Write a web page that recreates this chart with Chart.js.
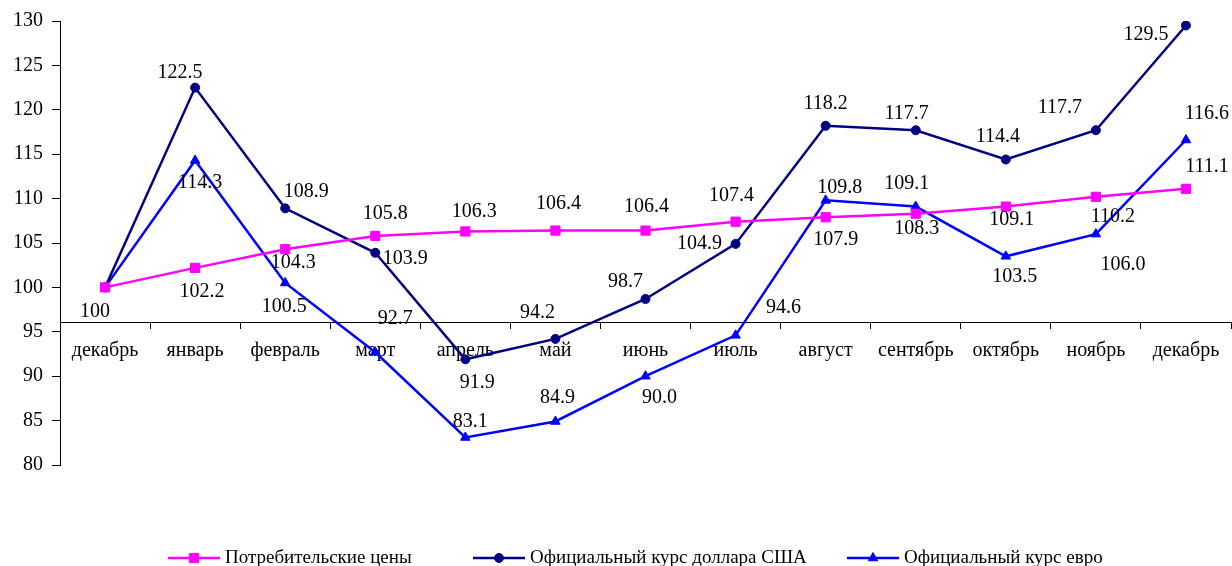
<!DOCTYPE html>
<html>
<head>
<meta charset="utf-8">
<script src="https://cdn.jsdelivr.net/npm/chart.js@4/dist/chart.umd.min.js"></script>
<style>
    html, body { margin: 0; padding: 0; background: #ffffff; }
    #wrap { width: 1232px; height: 566px; }
</style>
</head>
<body>
<div id="wrap"><canvas id="lineChart1"></canvas></div>
<script>
const months = ['декабрь', 'январь', 'февраль', 'март', 'апрель', 'май', 'июнь',
    'июль', 'август', 'сентябрь', 'октябрь', 'ноябрь', 'декабрь'];
const consumerPrices = [100, 102.2, 104.3, 105.8, 106.3, 106.4, 106.4, 107.4, 107.9, 108.3, 109.1, 110.2, 111.1];
const usdRate = [100, 122.5, 108.9, 103.9, 91.9, 94.2, 98.7, 104.9, 118.2, 117.7, 114.4, 117.7, 129.5];
const euroRate = [100, 114.3, 100.5, 92.7, 83.1, 84.9, 90.0, 94.6, 109.8, 109.1, 103.5, 106.0, 116.6];
const seriesNames = ['Потребительские цены', 'Официальный курс доллара США', 'Официальный курс евро'];
const yMin = 80, yMax = 130, yStep = 5, xCross = 96;

// where each value label sits, relative to its marker (null = no label)
const labelOffsets = [
    [[-10, 24], [7, 24], [8, 14], [10, -22], [9, -20], [3, -27], [1, -24], [-4, -26], [10, 23], [1, 15], [6, 13], [17, 20], [21, -22]],
    [null, [-15, -15], [21, -17], [30, 6], [12, 23], [-18, -26], [-20, -17], [-36, 0], [0, -22], [-9, -16], [-8, -23], [-36, -22], [-40, 9]],
    [null, [5, 22], [-1, 24], [20, -33], [5, -16], [2, -24], [14, 22], [48, -28], [14, -13], [-9, -23], [9, 20], [27, 31], [21, -26]]
];
// left edge of each legend entry
const legendX = [168, 473, 847];

const serif = "'Liberation Serif', 'Times New Roman', serif";
const fontSize = 20;

const valueLabels = {
    id: 'valueLabels',
    afterDatasetsDraw(chart) {
        const ctx = chart.ctx;
        ctx.save();
        ctx.font = fontSize + 'px ' + serif;
        ctx.fillStyle = '#000000';
        ctx.textAlign = 'center';
        ctx.textBaseline = 'middle';
        chart.data.datasets.forEach((ds, di) => {
            chart.getDatasetMeta(di).data.forEach((pt, i) => {
                const off = labelOffsets[di][i];
                if (!off) return;
                const v = ds.data[i];
                const txt = i === 0 ? String(v) : v.toFixed(1);
                ctx.fillText(txt, pt.x + off[0], pt.y + off[1]);
            });
        });
        ctx.restore();
    }
};

const bottomLegend = {
    id: 'bottomLegend',
    afterDraw(chart) {
        const ctx = chart.ctx;
        const lineLen = 52, textGap = 5, cy = 558;
        ctx.save();
        ctx.font = '19px ' + serif;
        ctx.textBaseline = 'middle';
        chart.data.datasets.forEach((d, i) => {
            const x = legendX[i];
            ctx.strokeStyle = d.borderColor;
            ctx.lineWidth = d.borderWidth;
            ctx.beginPath();
            ctx.moveTo(x, cy);
            ctx.lineTo(x + lineLen, cy);
            ctx.stroke();
            ctx.fillStyle = d.pointBackgroundColor;
            ctx.lineWidth = 1;
            Chart.helpers.drawPoint(ctx, {
                pointStyle: d.pointStyle,
                radius: d.pointRadius,
                borderWidth: 1
            }, x + lineLen / 2, cy);
            ctx.fillStyle = '#000000';
            ctx.fillText(d.label, x + lineLen + textGap, cy);
        });
        ctx.restore();
    }
};

function series(label, data, color, style, radius) {
    return {
        label: label,
        data: data,
        borderColor: color,
        backgroundColor: color,
        pointBackgroundColor: color,
        pointBorderColor: color,
        borderWidth: 2.5,
        pointStyle: style,
        pointRadius: radius,
        pointHoverRadius: radius,
        pointBorderWidth: 1,
        tension: 0
    };
}

const ctxLineChart1 = document.getElementById('lineChart1').getContext('2d');
const lineChart1 = new Chart(ctxLineChart1, {
    type: 'line',
    data: {
        labels: months,
        datasets: [
            series(seriesNames[0], consumerPrices, '#ff00ff', 'rect', 6.5),
            series(seriesNames[1], usdRate, '#000080', 'circle', 4.5),
            series(seriesNames[2], euroRate, '#0000ff', 'triangle', 5.5)
        ]
    },
    options: {
        responsive: true,
        maintainAspectRatio: false,
        animation: false,
        layout: {
            autoPadding: false,
            padding: { left: 4, right: 1, top: 19, bottom: 101 }
        },
        scales: {
            x: {
                position: { y: xCross },
                offset: true,
                ticks: {
                    color: '#000000',
                    padding: 10,
                    maxRotation: 0,
                    autoSkip: false,
                    font: { size: fontSize, family: serif }
                },
                grid: {
                    offset: true,
                    drawOnChartArea: false,
                    tickLength: 6,
                    color: '#000000'
                },
                border: { color: '#000000', width: 1 }
            },
            y: {
                min: yMin,
                max: yMax,
                ticks: {
                    stepSize: yStep,
                    color: '#000000',
                    padding: 9,
                    font: { size: fontSize, family: serif }
                },
                grid: {
                    drawOnChartArea: false,
                    tickLength: 8,
                    color: '#000000'
                },
                border: { color: '#000000', width: 1 }
            }
        },
        plugins: {
            legend: { display: false },
            tooltip: { enabled: false }
        }
    },
    plugins: [valueLabels, bottomLegend]
});
</script>
</body>
</html>
